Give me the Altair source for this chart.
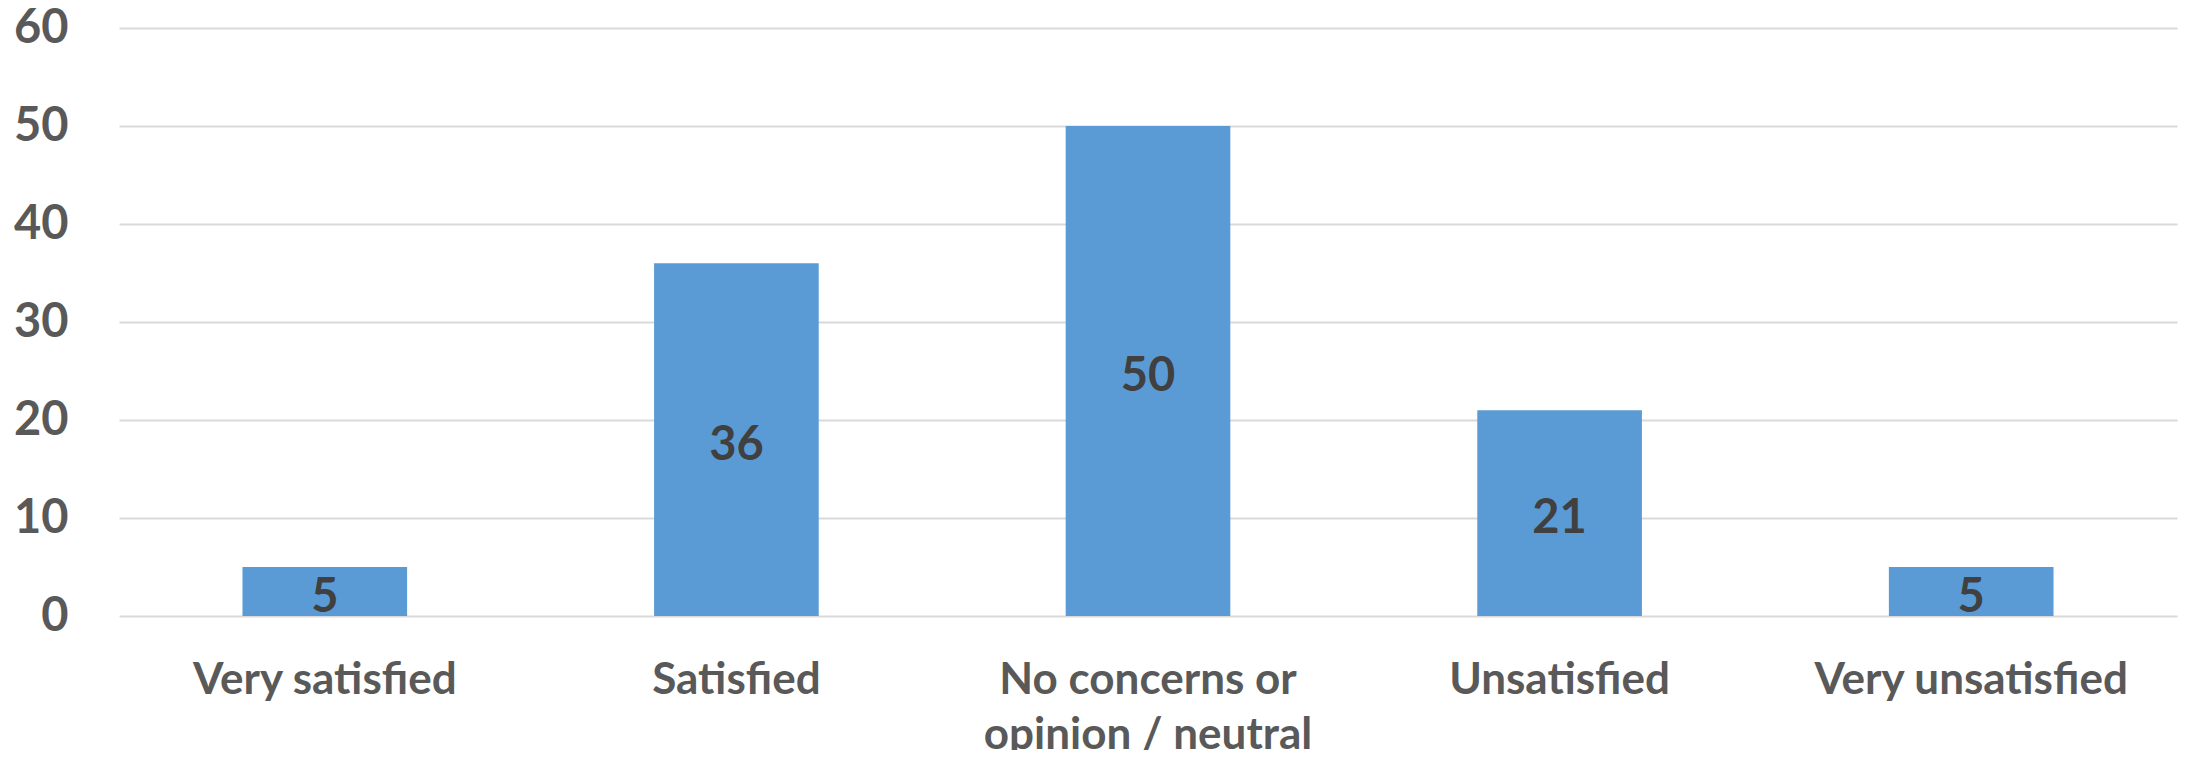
import altair as alt
import pandas as pd

categories = ["Very satisfied", "Satisfied", "No concerns or opinion / neutral", "Unsatisfied", "Very unsatisfied"]
values = [5, 36, 50, 21, 5]
y_ticks = [0, 10, 20, 30, 40, 50, 60]

df = pd.DataFrame({"category": categories, "value": values})

x_enc = alt.X(
    "category:N",
    sort=categories,
    title=None,
    scale=alt.Scale(paddingInner=0.6, paddingOuter=0.3),
    axis=alt.Axis(
        labelAngle=0,
        labelFont="Lato",
        labelFontWeight="bold",
        labelFontSize=44,
        labelColor="#595959",
        labelPadding=42,
        labelBaseline="top",
        labelLineHeight=55,
        labelLimit=0,
        domain=False,
        ticks=False,
        grid=False,
        labelExpr="datum.label == 'No concerns or opinion / neutral' ? ['No concerns or', 'opinion / neutral'] : datum.label",
    ),
)

bars = alt.Chart(df).mark_bar(color="#5B9BD5").encode(
    x=x_enc,
    y=alt.Y(
        "value:Q",
        title=None,
        scale=alt.Scale(domain=[0, 60], nice=False),
        axis=alt.Axis(
            values=y_ticks,
            labelFont="Lato",
            labelFontWeight="bold",
            labelFontSize=47,
            labelColor="#595959",
            labelPadding=51,
            domain=False,
            ticks=False,
            grid=True,
            gridColor="#D9D9D9",
            gridWidth=2,
        ),
    ),
)

labels = alt.Chart(df).transform_calculate(mid="datum.value / 2").mark_text(
    font="Lato", fontWeight="bold", fontSize=47, color="#404040", baseline="middle", align="center", dy=6
).encode(
    x=alt.X("category:N", sort=categories),
    y=alt.Y("mid:Q"),
    text=alt.Text("value:Q"),
)

chart = (
    alt.layer(bars, labels)
    .properties(
        width=2058,
        height=588,
        padding={"left": 111, "top": 20, "right": 3, "bottom": 134},
        autosize=alt.AutoSizeParams(type="none"),
        background="white",
    )
    .configure_view(stroke=None)
)

chart.save("out.html", embed_options={"renderer": "svg", "actions": False})
